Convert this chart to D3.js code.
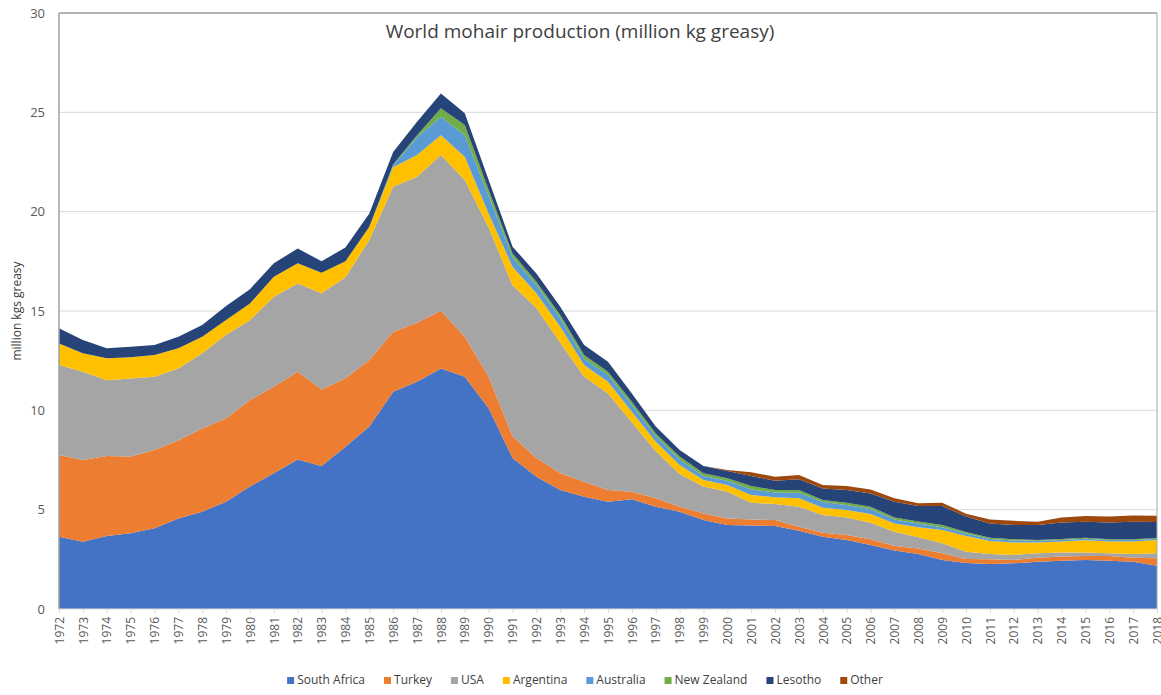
<!DOCTYPE html>
<html>
<head>
<meta charset="utf-8">
<script src="https://cdn.jsdelivr.net/npm/d3@7"></script>
<style>
  html, body { margin: 0; padding: 0; background: #ffffff; }
  svg { display: block; }
  text { font-family: "Open Sans", "Liberation Sans", sans-serif; }
</style>
</head>
<body>
<svg id="chart" width="1161" height="695"></svg>
<script>
const years = d3.range(1972, 2019);
const southAfrica = [3.64,3.39,3.67,3.81,4.06,4.56,4.9,5.4,6.16,6.83,
  7.53,7.2,8.17,9.18,10.94,11.44,12.11,11.69,10.1,7.6,
  6.66,5.99,5.65,5.4,5.52,5.15,4.9,4.48,4.23,4.2,
  4.18,3.94,3.64,3.47,3.22,2.94,2.77,2.47,2.32,2.26,
  2.3,2.38,2.43,2.47,2.43,2.38,2.18];
const turkey = [4.11,4.11,4.03,3.86,3.94,3.94,4.19,4.2,4.36,4.36,
  4.41,3.85,3.44,3.35,3.02,2.97,2.9,2.02,1.59,1.1,
  0.94,0.84,0.76,0.59,0.38,0.42,0.25,0.33,0.33,0.31,
  0.3,0.2,0.2,0.25,0.29,0.23,0.28,0.33,0.2,0.24,
  0.17,0.2,0.21,0.2,0.24,0.2,0.38];
const usa = [4.53,4.44,3.82,3.93,3.69,3.61,3.78,4.2,4.02,4.53,
  4.45,4.84,5.09,6.04,7.29,7.35,7.84,7.88,7.51,7.6,
  7.55,6.57,5.29,4.86,3.5,2.38,1.65,1.35,1.34,0.84,
  0.8,1.01,0.89,0.89,0.83,0.72,0.56,0.51,0.36,0.27,
  0.25,0.22,0.2,0.18,0.13,0.19,0.24];
const argentina = [1.09,0.93,1.1,1.07,1.09,1.01,0.83,0.75,0.84,1.01,
  1.01,1.04,0.8,0.67,0.98,1.09,1.0,1.17,0.7,0.93,
  0.74,0.81,0.58,0.59,0.53,0.47,0.45,0.33,0.34,0.39,
  0.34,0.42,0.37,0.37,0.44,0.42,0.5,0.67,0.8,0.65,
  0.63,0.55,0.56,0.61,0.6,0.63,0.67];
const australia = [0,0,0,0,0,0,0,0,0,0,
  0,0,0,0,0.1,0.9,0.93,1.09,0.9,0.47,
  0.42,0.42,0.32,0.34,0.34,0.28,0.28,0.21,0.22,0.28,
  0.25,0.28,0.28,0.26,0.25,0.2,0.2,0.13,0.12,0.1,
  0.1,0.08,0.07,0.08,0.07,0.07,0.07];
const newZealand = [0,0,0,0,0,0,0,0,0,0,
  0,0,0,0,0.05,0.1,0.42,0.51,0.3,0.2,
  0.16,0.17,0.18,0.16,0.16,0.14,0.14,0.13,0.12,0.17,
  0.12,0.14,0.11,0.11,0.12,0.1,0.09,0.12,0.08,0.07,
  0.06,0.04,0.05,0.05,0.04,0.04,0.04];
const lesotho = [0.76,0.67,0.5,0.53,0.51,0.58,0.59,0.7,0.72,0.67,
  0.75,0.57,0.7,0.67,0.62,0.67,0.75,0.59,0.5,0.34,
  0.42,0.42,0.51,0.51,0.42,0.34,0.33,0.37,0.37,0.5,
  0.47,0.54,0.58,0.64,0.67,0.79,0.78,0.95,0.77,0.72,
  0.72,0.76,0.84,0.8,0.85,0.88,0.8];
const other = [0,0,0,0,0,0,0,0,0,0,
  0,0,0,0,0,0,0,0,0,0,
  0,0,0,0,0,0,0,0,0.05,0.19,
  0.2,0.21,0.17,0.2,0.2,0.17,0.14,0.17,0.15,0.2,
  0.21,0.16,0.25,0.29,0.29,0.32,0.32];
const seriesNames = ["South Africa","Turkey","USA","Argentina","Australia","New Zealand","Lesotho","Other"];
const seriesValues = [southAfrica, turkey, usa, argentina, australia, newZealand, lesotho, other];
const colors = ["#4472C4","#ED7D31","#A5A5A5","#FFC000","#5B9BD5","#70AD47","#264478","#9E480E"];
const yTicks = [0,5,10,15,20,25,30];

(function draw() {
  const table = years.map((yr, i) => {
    const row = { year: yr };
    seriesNames.forEach((n, k) => { row[n] = seriesValues[k][i]; });
    return row;
  });

  const svg = d3.select("#chart");
  const pl = 59, pr = 1157, pt = 13, pb = 609;
  const x = d3.scaleLinear().domain([1972, 2018]).range([pl, pr]);
  const y = d3.scaleLinear().domain([0, 30]).range([pb, pt]);

  svg.append("g").selectAll("line").data(yTicks.slice(1)).join("line")
    .attr("x1", pl).attr("x2", pr)
    .attr("y1", d => y(d)).attr("y2", d => y(d))
    .attr("stroke", "#d9d9d9").attr("stroke-width", 1);

  const stack = d3.stack().keys(seriesNames)(table);
  const area = d3.area()
    .x(d => x(d.data.year))
    .y0(d => y(d[0]))
    .y1(d => y(d[1]));

  svg.append("g").selectAll("path").data(stack).join("path")
    .attr("d", area)
    .attr("fill", (d, i) => colors[i]);

  svg.append("line").attr("x1", pl).attr("x2", pl).attr("y1", pt).attr("y2", pb)
    .attr("stroke", "#a0a0a0").attr("stroke-width", 1.5);
  svg.append("line").attr("x1", pl).attr("x2", pr).attr("y1", pt).attr("y2", pt)
    .attr("stroke", "#a0a0a0").attr("stroke-width", 1.5);
  svg.append("line").attr("x1", pr).attr("x2", pr).attr("y1", pt).attr("y2", pb)
    .attr("stroke", "#a6a6a6").attr("stroke-width", 1);
  svg.append("line").attr("x1", pl).attr("x2", pr).attr("y1", pb).attr("y2", pb)
    .attr("stroke", "#d9d9d9").attr("stroke-width", 1);

  const yAxis = d3.axisLeft(y).tickValues(yTicks).tickSize(0).tickPadding(14);
  const gy = svg.append("g").attr("transform", `translate(${pl},0)`).call(yAxis);
  gy.select(".domain").remove();
  gy.selectAll("text").attr("font-size", 13).attr("fill", "#595959")
    .attr("font-family", "'Open Sans', sans-serif");

  const xAxis = d3.axisBottom(x).tickValues(years).tickFormat(d3.format("d")).tickSize(4);
  const gx = svg.append("g").attr("transform", `translate(0,${pb})`).call(xAxis);
  gx.select(".domain").remove();
  gx.selectAll(".tick line").attr("stroke", "#d9d9d9");
  gx.selectAll("text")
    .attr("font-size", 12).attr("fill", "#595959")
    .attr("font-family", "'Open Sans', sans-serif")
    .attr("transform", "rotate(-90)")
    .attr("text-anchor", "end")
    .attr("x", -8).attr("y", 0).attr("dy", "0.35em");

  svg.append("text")
    .attr("transform", `translate(21,${(pt + pb) / 2})rotate(-90)`)
    .attr("text-anchor", "middle")
    .attr("font-size", 12).attr("fill", "#404040")
    .text("million kgs greasy");

  svg.append("text")
    .attr("x", 580).attr("y", 38)
    .attr("text-anchor", "middle")
    .attr("font-size", 19).attr("fill", "#404040")
    .text("World mohair production (million kg greasy)");

  const lg = svg.append("g");
  const items = [];
  seriesNames.forEach((n, i) => {
    const g = lg.append("g");
    g.append("rect").attr("x", 0).attr("y", -7).attr("width", 7).attr("height", 7).attr("fill", colors[i]);
    const t = g.append("text").attr("x", 10).attr("y", 0).attr("font-size", 12)
      .attr("fill", "#404040").text(n);
    items.push({ g, w: 10 + t.node().getComputedTextLength() });
  });
  const gap = 19;
  const totalW = d3.sum(items, d => d.w) + gap * (items.length - 1);
  let cx = 585 - totalW / 2;
  items.forEach(it => {
    it.g.attr("transform", `translate(${cx},684)`);
    cx += it.w + gap;
  });
})();
</script>
</body>
</html>
